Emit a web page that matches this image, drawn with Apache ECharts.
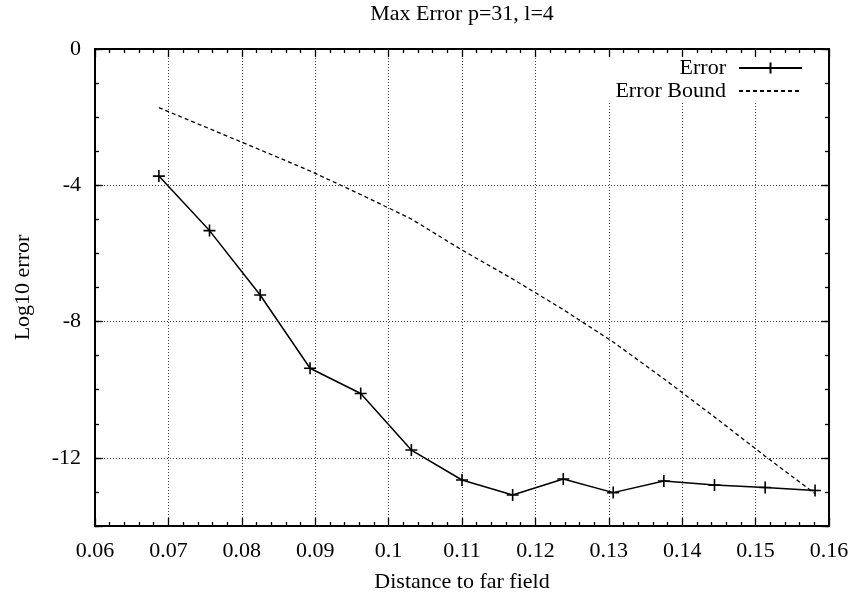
<!DOCTYPE html>
<html>
<head>
<meta charset="utf-8">
<script src="https://cdn.jsdelivr.net/npm/echarts@6/dist/echarts.min.js"></script>
<style>html,body{margin:0;padding:0;background:#fff}#c{width:854px;height:595px}</style>
</head>
<body>
<div id="c"></div>
<script>
const titleText = 'Max Error p=31, l=4';
const xName = 'Distance to far field';
const yName = 'Log10 error';
const seriesNames = ['Error', 'Error Bound'];
const distance = [0.0687, 0.0756, 0.0825, 0.0893, 0.0962, 0.1031, 0.1100, 0.1169, 0.1238, 0.1306, 0.1375, 0.1444, 0.1513, 0.1581];
const errorVals = [-3.73, -5.33, -7.22, -9.37, -10.11, -11.77, -12.65, -13.09, -12.62, -13.02, -12.68, -12.80, -12.87, -12.96];
const boundVals = [-1.72, -2.34, -2.96, -3.58, -4.27, -4.99, -5.90, -6.75, -7.65, -8.60, -9.68, -10.80, -11.95, -13.05];
const xTicks = [0.06, 0.07, 0.08, 0.09, 0.1, 0.11, 0.12, 0.13, 0.14, 0.15, 0.16];
const yTickLabels = ['0', '-4', '-8', '-12'];

const FONT = "'Liberation Serif', 'Times New Roman', serif";
const FS = 22;
const chart = echarts.init(document.getElementById('c'), null, {renderer: 'canvas'});
const gridLine = {show: true, lineStyle: {color: '#444', type: [1, 2], width: 1}, showMinLine: false, showMaxLine: false};
const frame = {show: true, onZero: false, lineStyle: {color: '#000', width: 2}};
const labelStyle = {color: '#000', fontFamily: FONT, fontSize: FS};

function xAxisDef(pos, withLabels) {
  return {
    type: 'value', position: pos, min: 0.06, max: 0.16, interval: 0.01,
    axisLine: frame,
    axisTick: {show: true, inside: true, length: 8, lineStyle: {color: '#000', width: 1.3}},
    minorTick: {show: true, splitNumber: 5, length: 4, lineStyle: {color: '#000', width: 1.3}},
    axisLabel: withLabels ? Object.assign({margin: 14, formatter: v => {
      const t = xTicks.find(k => Math.abs(k - v) < 1e-9);
      return t === undefined ? '' : String(t);
    }}, labelStyle) : {show: false},
    splitLine: withLabels ? gridLine : {show: false},
    name: withLabels ? xName : '',
    nameLocation: 'middle', nameGap: 45,
    nameTextStyle: {color: '#000', fontFamily: FONT, fontSize: FS}
  };
}
function yMinorAxis(pos) {
  return {
    type: 'value', position: pos, min: -14, max: 0, interval: 1,
    axisLine: frame,
    axisTick: {show: true, inside: true, length: 4, lineStyle: {color: '#000', width: 1.3}},
    axisLabel: {show: false}, splitLine: {show: false}
  };
}
function yMajorAxis(pos, withLabels) {
  return {
    type: 'value', position: pos, inverse: true, min: 0, max: 14, interval: 4,
    axisLine: frame,
    axisTick: {show: true, inside: true, length: 8, lineStyle: {color: '#000', width: 1.3}},
    axisLabel: withLabels ? Object.assign({margin: 14, formatter: v => {
      const i = Math.round(v / 4);
      return (Math.abs(v - i * 4) < 1e-9 && i < yTickLabels.length) ? yTickLabels[i] : '';
    }}, labelStyle) : {show: false},
    splitLine: withLabels ? gridLine : {show: false},
    name: withLabels ? yName : '',
    nameLocation: 'middle', nameGap: 61, nameRotate: 90,
    nameTextStyle: {color: '#000', fontFamily: FONT, fontSize: FS}
  };
}

const plus = 'path://M5,0 L5,10 M0,5 L10,5';

chart.setOption({
  animation: false,
  backgroundColor: '#fff',
  graphic: [{
    type: 'text', x: 462, y: 3,
    style: {text: titleText, fill: '#000', font: FS + 'px ' + FONT, textAlign: 'center', textVerticalAlign: 'top'}
  }],
  grid: {left: 95, right: 25, top: 49, bottom: 69, containLabel: false, outerBoundsMode: 'none'},
  legend: {
    data: seriesNames, orient: 'vertical', align: 'right', right: 47, top: 57,
    itemWidth: 63, itemHeight: 14, itemGap: 1, padding: [0, 4, 0, 26],
    backgroundColor: '#fff',
    textStyle: {color: '#000', fontFamily: FONT, fontSize: FS, lineHeight: 22, padding: [0, 8, 0, 0]}
  },
  xAxis: [xAxisDef('bottom', true), xAxisDef('top', false)],
  yAxis: [yMinorAxis('left'), yMajorAxis('left', true), yMinorAxis('right'), yMajorAxis('right', false)],
  series: [
    {
      name: seriesNames[0], type: 'line', xAxisIndex: 0, yAxisIndex: 0,
      data: distance.map((d, i) => [d, errorVals[i]]),
      symbol: plus, symbolSize: 12,
      itemStyle: {color: '#000', borderColor: '#000', borderWidth: 1.6},
      lineStyle: {color: '#000', width: 1.5},
      z: 3
    },
    {
      name: seriesNames[1], type: 'line', xAxisIndex: 0, yAxisIndex: 0,
      data: distance.map((d, i) => [d, boundVals[i]]),
      symbol: 'circle', showSymbol: false, symbolSize: 0,
      itemStyle: {color: 'rgba(0,0,0,0)', borderWidth: 0},
      lineStyle: {color: '#000', width: 1.3, type: [4, 3]},
      z: 2
    }
  ]
});
</script>
</body>
</html>
